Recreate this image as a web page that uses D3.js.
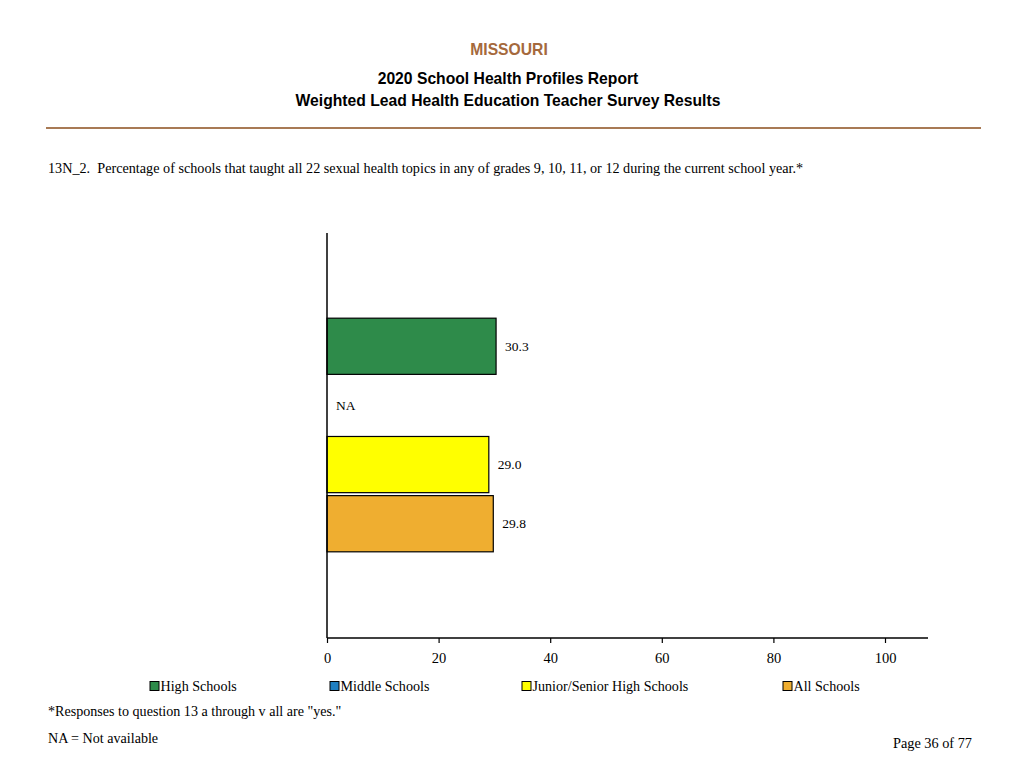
<!DOCTYPE html>
<html><head><meta charset="utf-8">
<script src="https://cdn.jsdelivr.net/npm/d3@7"></script>
<style>body{margin:0;background:#fff}</style>
</head><body>
<script>
const categories = ["High Schools", "Middle Schools", "Junior/Senior High Schools", "All Schools"];
const values = [30.3, null, 29.0, 29.8];
const colors = ["#2e8b4a", "#1f7fc1", "#ffff00", "#efae30"];
const xTicks = [0, 20, 40, 60, 80, 100];
const legendX = [150, 330, 522, 783];

const svg = d3.select("body").append("svg").attr("width", 1024).attr("height", 768);
const sans = "Liberation Sans, Arial, sans-serif";
const serif = "Liberation Serif, Times New Roman, serif";

svg.append("text").attr("x", 509).attr("y", 55).attr("text-anchor", "middle")
  .attr("font-family", sans).attr("font-weight", "bold").attr("font-size", 15.7).attr("fill", "#a5693c").text("MISSOURI");
svg.append("text").attr("x", 508).attr("y", 84).attr("text-anchor", "middle")
  .attr("font-family", sans).attr("font-weight", "bold").attr("font-size", 15.7).text("2020 School Health Profiles Report");
svg.append("text").attr("x", 508).attr("y", 106).attr("text-anchor", "middle")
  .attr("font-family", sans).attr("font-weight", "bold").attr("font-size", 15.7).text("Weighted Lead Health Education Teacher Survey Results");
svg.append("line").attr("x1", 46).attr("x2", 981).attr("y1", 128).attr("y2", 128)
  .attr("stroke", "#a87a55").attr("stroke-width", 2);

svg.append("text").attr("x", 48).attr("y", 173).attr("font-family", serif).attr("font-size", 14.2)
  .style("white-space", "pre")
  .text("13N_2.  Percentage of schools that taught all 22 sexual health topics in any of grades 9, 10, 11, or 12 during the current school year.*");

const x = d3.scaleLinear().domain([0, 100]).range([327, 885]);
const y = d3.scaleBand().domain(categories).range([317, 553]).paddingInner(0.05).paddingOuter(0.02);

const g = svg.append("g");
g.selectAll("rect.bar").data(categories.map((c, i) => ({c, v: values[i], col: colors[i]})).filter(d => d.v !== null))
  .enter().append("rect")
  .attr("x", x(0)).attr("y", d => y(d.c)).attr("width", d => x(d.v) - x(0)).attr("height", y.bandwidth())
  .attr("fill", d => d.col).attr("stroke", "#000").attr("stroke-width", 1.2);

g.selectAll("text.lab").data(categories.map((c, i) => ({c, v: values[i]})))
  .enter().append("text")
  .attr("x", d => d.v === null ? x(0) + 9 : x(d.v) + 9)
  .attr("y", d => y(d.c) + y.bandwidth() / 2 + 4.5)
  .attr("font-family", serif).attr("font-size", 13.5)
  .text(d => d.v === null ? "NA" : d.v.toFixed(1));

// axes
svg.append("line").attr("x1", 327).attr("x2", 327).attr("y1", 233).attr("y2", 638).attr("stroke", "#000").attr("stroke-width", 1.5);
const ax = svg.append("g").attr("transform", "translate(0,638)")
  .call(d3.axisBottom(x).tickValues(xTicks).tickSize(5).tickSizeOuter(0).tickFormat(d3.format("d")));
ax.select(".domain").remove();
ax.append("line").attr("x1", 327).attr("x2", 928).attr("stroke", "#000").attr("stroke-width", 1.5);
ax.selectAll(".tick line").attr("stroke", "#000").attr("stroke-width", 1.2);
ax.selectAll(".tick text").attr("font-family", serif).attr("font-size", 14.5).attr("fill", "#000").attr("dy", "1.15em");

// legend
const lg = svg.selectAll("g.leg").data(categories).enter().append("g")
  .attr("transform", (d, i) => `translate(${legendX[i]},686)`);
lg.append("rect").attr("x", 0).attr("y", -4.5).attr("width", 9).attr("height", 9)
  .attr("fill", (d, i) => colors[i]).attr("stroke", "#000").attr("stroke-width", 1);
lg.append("text").attr("x", 10.5).attr("y", 4.5).attr("font-family", serif).attr("font-size", 14.1).text(d => d);

svg.append("text").attr("x", 48).attr("y", 716).attr("font-family", serif).attr("font-size", 14.1)
  .text('*Responses to question 13 a through v all are "yes."');
svg.append("text").attr("x", 48).attr("y", 743).attr("font-family", serif).attr("font-size", 14.1)
  .text("NA = Not available");
svg.append("text").attr("x", 972).attr("y", 748).attr("text-anchor", "end").attr("font-family", serif).attr("font-size", 14.3)
  .text("Page 36 of 77");
</script>
</body></html>
